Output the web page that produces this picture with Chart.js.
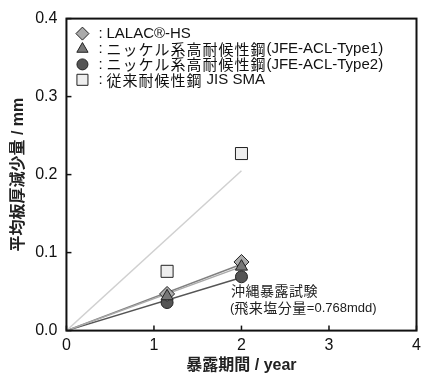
<!DOCTYPE html>
<html>
<head>
<meta charset="utf-8">
<script src="https://cdn.jsdelivr.net/npm/chart.js@4/dist/chart.umd.min.js"></script>
<style>
  html, body { margin: 0; padding: 0; background: #fff; }
  #wrap { width: 426px; height: 377px; }
</style>
</head>
<body>
<div id="wrap"><canvas id="chart"></canvas></div>
<script>
// exposure years and thickness loss (mm)
const years = [1.15, 2.0];
const lalac = [0.047, 0.088];
const type1 = [0.044, 0.082];
const type2 = [0.036, 0.069];
const sma = [0.076, 0.227];

// fitted lines from origin, end values at 2 years
const fitX = [0, 2.0];
const lalacFit = [0, 0.085];
const type1Fit = [0, 0.082];
const type2Fit = [0, 0.068];
const smaFit = [0, 0.205];

const xTicks = [0, 1, 2, 3, 4];
const yTicks = [0.0, 0.1, 0.2, 0.3, 0.4];

const legendLabels = [
    'LALAC®-HS',
    'ニッケル系高耐候性鋼(JFE-ACL-Type1)',
    'ニッケル系高耐候性鋼(JFE-ACL-Type2)',
    '従来耐候性鋼 JIS SMA'
];
const noteLines = ['沖縄暴露試験', '(飛来塩分量=0.768mdd)'];

const LATIN = "'Liberation Sans', Arial, sans-serif";
const CJK = "'Noto Sans CJK JP', sans-serif";
const FONT = "'Liberation Sans', Arial, 'Noto Sans CJK JP', sans-serif";

function pts(xs, ys) {
    return xs.map((x, i) => ({ x: x, y: ys[i] }));
}

function lineSet(ys, color, width) {
    return {
        type: 'line',
        data: pts(fitX, ys),
        borderColor: color,
        borderWidth: width,
        pointRadius: 0,
        fill: false,
        order: 5
    };
}

function markSet(ys, style, fill, r) {
    return {
        type: 'scatter',
        data: pts(years, ys),
        pointStyle: style,
        pointRadius: r,
        pointBackgroundColor: fill,
        pointBorderColor: '#222',
        pointBorderWidth: 1,
        order: 1
    };
}

// text with japanese and latin runs in their own fonts
function drawMixed(ctx, text, x, y, latinSize, cjkSize, spacing) {
    const runs = text.match(/[\u3000-\u9fff\uff00-\uffef]+|[^\u3000-\u9fff\uff00-\uffef]+/g);
    runs.forEach(r => {
        const isCjk = /[\u3000-\u9fff\uff00-\uffef]/.test(r);
        ctx.font = isCjk ? cjkSize + 'px ' + CJK : latinSize + 'px ' + LATIN;
        ctx.letterSpacing = isCjk ? spacing + 'px' : '0px';
        ctx.fillText(r, x, y);
        x += ctx.measureText(r).width;
    });
    ctx.letterSpacing = '0px';
}

// legend, annotation, frame and inward ticks
const decor = {
    id: 'decor',
    afterDraw(chart) {
        const ctx = chart.ctx;
        const a = chart.chartArea;
        const xs = chart.scales.x;
        const ys = chart.scales.y;
        ctx.save();
        ctx.strokeStyle = '#111';
        ctx.lineWidth = 1.5;
        xTicks.forEach(v => {
            const px = xs.getPixelForValue(v);
            ctx.beginPath();
            ctx.moveTo(px, a.bottom);
            ctx.lineTo(px, a.bottom - 5);
            ctx.stroke();
        });
        yTicks.forEach(v => {
            const py = ys.getPixelForValue(v);
            ctx.beginPath();
            ctx.moveTo(a.left, py);
            ctx.lineTo(a.left + 5, py);
            ctx.stroke();
        });
        ctx.lineWidth = 2;
        ctx.strokeRect(a.left, a.top, a.right - a.left, a.bottom - a.top);

        // legend
        const styles = [
            ['rectRot', '#aaa', 6.5],
            ['triangle', '#777', 6.5],
            ['circle', '#555', 5.5],
            ['rect', '#eee', 7.8]
        ];
        ctx.textBaseline = 'middle';
        legendLabels.forEach((t, i) => {
            const y = a.top + 15 + i * 15.4;
            const s = styles[i];
            ctx.fillStyle = s[1];
            ctx.strokeStyle = '#222';
            ctx.lineWidth = 1;
            Chart.helpers.drawPoint(ctx, { pointStyle: s[0], radius: s[2], borderWidth: 1 }, a.left + 16, y);
            ctx.fillStyle = '#111';
            ctx.font = '15px ' + LATIN;
            ctx.fillText(':', a.left + 32, y);
            drawMixed(ctx, t, a.left + 40, y, 15, 15, 1);
        });

        // note
        ctx.fillStyle = '#222';
        drawMixed(ctx, noteLines[0], 231, 291, 13, 14, 0.5);
        drawMixed(ctx, noteLines[1], 230, 308, 13, 14, 0.5);
        ctx.restore();
    }
};

new Chart(document.getElementById('chart').getContext('2d'), {
    data: {
        datasets: [
            lineSet(smaFit, '#d0d0d0', 1.5),
            lineSet(type1Fit, '#aaa', 1.5),
            lineSet(lalacFit, '#808080', 1.5),
            lineSet(type2Fit, '#555', 1.5),
            markSet(sma, 'rect', '#eee', 8.5),
            markSet(type1, 'triangle', '#777', 7),
            markSet(lalac, 'rectRot', '#aaa', 7.5),
            markSet(type2, 'circle', '#555', 6)
        ]
    },
    options: {
        responsive: true,
        maintainAspectRatio: false,
        animation: false,
        layout: { padding: { top: 15, right: 8, left: 5, bottom: 0 } },
        plugins: {
            legend: { display: false },
            tooltip: { enabled: false }
        },
        scales: {
            x: {
                type: 'linear',
                min: 0,
                max: 4,
                afterBuildTicks: s => { s.ticks = xTicks.map(v => ({ value: v })); },
                grid: { display: false, drawTicks: false },
                border: { display: false },
                ticks: {
                    padding: 5,
                    color: '#111',
                    font: { family: LATIN, size: 16 },
                    callback: v => String(v)
                },
                title: {
                    display: true,
                    text: '暴露期間 / year',
                    color: '#222',
                    font: { family: FONT, size: 16, weight: 'bold' },
                    padding: { top: -4, bottom: 2 }
                }
            },
            y: {
                type: 'linear',
                min: 0,
                max: 0.4,
                afterBuildTicks: s => { s.ticks = yTicks.map(v => ({ value: v })); },
                grid: { display: false, drawTicks: false },
                border: { display: false },
                ticks: {
                    padding: 9,
                    color: '#111',
                    font: { family: LATIN, size: 16 },
                    callback: v => Number(v).toFixed(1)
                },
                title: {
                    display: true,
                    text: '平均板厚減少量 / mm',
                    color: '#222',
                    font: { family: FONT, size: 16, weight: 'bold' },
                    padding: { top: 4, bottom: -2 }
                }
            }
        }
    },
    plugins: [decor]
});
</script>
</body>
</html>
